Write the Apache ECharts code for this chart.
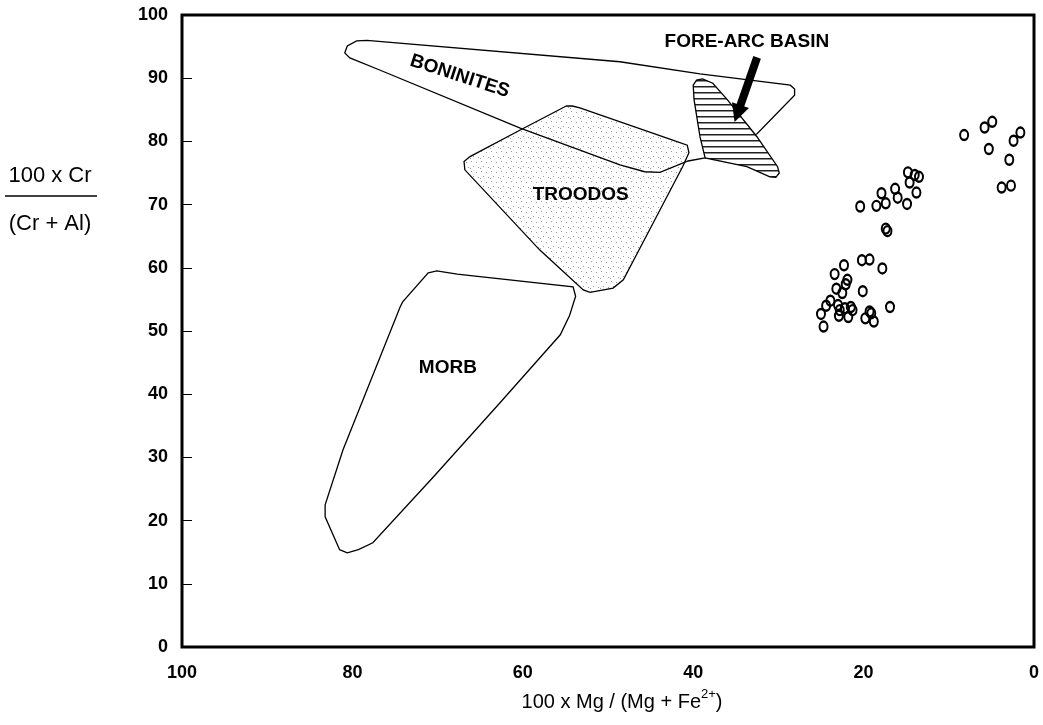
<!DOCTYPE html>
<html>
<head>
<meta charset="utf-8">
<title>Cr# vs Mg#</title>
<script src="https://cdn.jsdelivr.net/npm/echarts@6/dist/echarts.min.js"></script>
<style>
  html, body { margin: 0; padding: 0; background: #fff; }
  #chart { width: 1043px; height: 725px; }
</style>
</head>
<body>
<div id="chart"></div>
<script>
// ---- data ----
const xTicks = [0, 20, 40, 60, 80, 100]
const yTicks = [0, 10, 20, 30, 40, 50, 60, 70, 80, 90, 100]

// spinel analyses: 100Mg/(Mg+Fe2+) and 100Cr/(Cr+Al)
const sampleMg = [
  8.2, 5.8, 4.9, 5.3, 2.4, 1.6, 2.9, 3.8, 2.7,
  20.4, 18.5, 17.4, 17.9, 16.3, 16.0, 14.9, 14.8, 14.0, 13.5, 14.6, 13.8, 17.4, 17.2,
  22.3, 20.2, 19.3, 17.8, 23.4, 21.9, 22.1, 23.2, 22.5, 20.1, 23.9, 24.4, 25.0, 24.7,
  23.0, 22.8, 22.2, 22.9, 21.8, 21.5, 21.3, 19.8, 19.3, 19.1, 18.8, 16.9
]
const sampleCr = [
  81.0, 82.2, 83.1, 78.8, 80.1, 81.4, 77.1, 72.7, 73.0,
  69.7, 69.8, 70.2, 71.8, 72.5, 71.1, 70.1, 75.1, 74.7, 74.4, 73.5, 71.9, 66.2, 65.8,
  60.4, 61.2, 61.3, 59.9, 59.0, 58.1, 57.4, 56.7, 56.0, 56.3, 54.8, 54.0, 52.7, 50.7,
  54.1, 53.3, 53.6, 52.4, 52.2, 53.8, 53.3, 52.0, 53.1, 52.8, 51.5, 53.8
]

// field outlines [Mg#, Cr#]
const boninites = [
  [80.9, 94.0], [80.6, 95.1], [79.5, 95.9], [78.3, 96.0], [48.6, 92.6], [39.2, 90.7],
  [28.6, 88.9], [28.1, 88.3], [28.1, 87.3], [32.5, 81.2], [38.6, 77.4], [40.6, 76.9],
  [43.9, 75.1], [45.7, 75.2], [48.6, 76.3], [60.3, 82.1], [76.8, 91.3], [80.3, 93.2]
]
const troodos = [
  [54.9, 85.6], [60.3, 81.8], [66.2, 77.6], [66.9, 76.8], [66.8, 75.5], [58.0, 62.8],
  [52.9, 56.5], [52.1, 56.1], [49.4, 56.8], [48.2, 58.1], [44.7, 67.1], [41.2, 76.1],
  [40.5, 78.2], [40.7, 79.4], [42.4, 80.2], [53.3, 85.3], [54.2, 85.6]
]
const morb = [
  [71.1, 59.2], [70.1, 59.5], [67.7, 59.0], [54.1, 57.0], [53.8, 55.5], [54.5, 52.5],
  [55.6, 49.4], [62.7, 38.6], [70.5, 26.9], [77.6, 16.5], [79.3, 15.4], [80.6, 14.9],
  [81.5, 15.4], [83.2, 20.6], [83.2, 22.5], [81.1, 31.2], [74.4, 53.8], [74.1, 54.6]
]
const foreArc = [
  [40.0, 88.9], [39.6, 89.7], [38.9, 89.9], [37.7, 89.2], [36.0, 86.6], [32.5, 80.7],
  [30.1, 76.0], [29.9, 75.0], [30.3, 74.3], [31.0, 74.4], [33.7, 76.0], [38.6, 77.4],
  [39.2, 80.7], [39.9, 86.6]
]

const fieldNames = ['BONINITES', 'TROODOS', 'MORB', 'FORE-ARC BASIN']
const fieldLabelMg = [67.4, 53.2, 68.8, 33.7]
const fieldLabelCr = [90.3, 71.5, 44.2, 95.7]

const arrowFrom = [32.5, 93.3]
const arrowTo = [34.8, 84.4]

// ---- fill patterns ----
function stipple() {
  const c = document.createElement('canvas')
  c.width = 10
  c.height = 10
  const ctx = c.getContext('2d')
  ctx.fillStyle = '#9a9a9a'
  const dots = [[1, 1], [6, 2], [3, 6], [8, 7], [0, 8]]
  dots.forEach(d => ctx.fillRect(d[0], d[1], 1, 1))
  return { image: c, repeat: 'repeat' }
}
function hatch() {
  const c = document.createElement('canvas')
  c.width = 8
  c.height = 6
  const ctx = c.getContext('2d')
  ctx.fillStyle = '#fff'
  ctx.fillRect(0, 0, 8, 6)
  ctx.fillStyle = '#222'
  ctx.fillRect(0, 2, 8, 1.5)
  return { image: c, repeat: 'repeat' }
}

function fieldSeries(name, points, fill, z) {
  return {
    name: name,
    type: 'custom',
    coordinateSystem: 'cartesian2d',
    silent: true,
    z: z,
    data: [[points[0][0], points[0][1]]],
    renderItem: function (params, api) {
      return {
        type: 'polygon',
        shape: { points: points.map(p => api.coord(p)) },
        style: { fill: fill, stroke: '#000', lineWidth: 1.3 }
      }
    }
  }
}

const myChart = echarts.init(document.getElementById('chart'))

const font = 'Liberation Sans, Arial, Helvetica, sans-serif'

myChart.setOption({
  backgroundColor: '#fff',
  animation: false,
  grid: {
    left: 182,
    right: 9,
    top: 15,
    bottom: 78,
    show: true,
    borderColor: '#000',
    borderWidth: 3
  },
  xAxis: {
    type: 'value',
    inverse: true,
    min: xTicks[0],
    max: xTicks[xTicks.length - 1],
    interval: xTicks[1] - xTicks[0],
    axisLine: { show: false, onZero: false },
    axisTick: { show: false },
    splitLine: { show: false },
    axisLabel: {
      margin: 17,
      color: '#000',
      fontSize: 18,
      fontWeight: 'bold',
      fontFamily: font
    }
  },
  yAxis: {
    type: 'value',
    min: yTicks[0],
    max: yTicks[yTicks.length - 1],
    interval: yTicks[1] - yTicks[0],
    axisLine: { show: false, onZero: false },
    axisTick: { show: true, inside: true, length: 10, lineStyle: { color: '#000', width: 1 } },
    splitLine: { show: false },
    axisLabel: {
      margin: 14,
      color: '#000',
      fontSize: 18,
      fontWeight: 'bold',
      fontFamily: font
    }
  },
  graphic: [
    {
      type: 'text', x: 50, y: 176, z: 100,
      style: { text: '100 x Cr', font: '22px ' + font, fill: '#000', align: 'center', verticalAlign: 'middle' }
    },
    {
      type: 'line', z: 100,
      shape: { x1: 5, y1: 196, x2: 97, y2: 196 },
      style: { stroke: '#000', lineWidth: 1.5 }
    },
    {
      type: 'text', x: 50, y: 224, z: 100,
      style: { text: '(Cr + Al)', font: '22px ' + font, fill: '#000', align: 'center', verticalAlign: 'middle' }
    },
    {
      type: 'text', x: 622, y: 700, z: 100,
      style: {
        text: '{a|100 x Mg / (Mg + Fe}{s|2+}{a|)}',
        align: 'center',
        verticalAlign: 'middle',
        rich: {
          a: { fontSize: 20, fontFamily: font, color: '#000', lineHeight: 24, verticalAlign: 'bottom' },
          s: { fontSize: 13, fontFamily: font, color: '#000', lineHeight: 12, verticalAlign: 'top' }
        }
      }
    }
  ],
  series: [
    fieldSeries('TROODOS', troodos, stipple(), 2),
    fieldSeries('MORB', morb, 'rgba(0,0,0,0)', 3),
    fieldSeries('BONINITES', boninites, 'rgba(0,0,0,0)', 3),
    fieldSeries('FORE-ARC BASIN', foreArc, hatch(), 4),
    {
      name: 'samples',
      type: 'scatter',
      z: 6,
      symbol: 'circle',
      symbolSize: [8, 10],
      itemStyle: { color: 'rgba(0,0,0,0)', borderColor: '#000', borderWidth: 2.2, opacity: 1 },
      data: sampleMg.map((v, i) => [v, sampleCr[i]])
    },
    {
      name: 'arrow',
      type: 'lines',
      coordinateSystem: 'cartesian2d',
      z: 7,
      symbol: ['none', 'triangle'],
      symbolSize: [19, 18],
      lineStyle: { color: '#000', width: 8, opacity: 1, curveness: 0 },
      itemStyle: { color: '#000' },
      data: [{ coords: [arrowFrom, arrowTo] }]
    },
    {
      name: 'labels',
      type: 'scatter',
      z: 8,
      symbolSize: 0,
      silent: true,
      itemStyle: { opacity: 1 },
      label: {
        show: true,
        position: 'inside',
        formatter: '{b}',
        color: '#000',
        opacity: 1,
        textBorderWidth: 0,
        fontSize: 19,
        fontWeight: 'bold',
        fontFamily: font
      },
      data: fieldNames.map((n, i) => ({
        name: n,
        value: [fieldLabelMg[i], fieldLabelCr[i]],
        label: { rotate: n === 'BONINITES' ? -18 : 0 }
      }))
    }
  ]
})

window.addEventListener('resize', () => {
  myChart.resize()
})
</script>
</body>
</html>
